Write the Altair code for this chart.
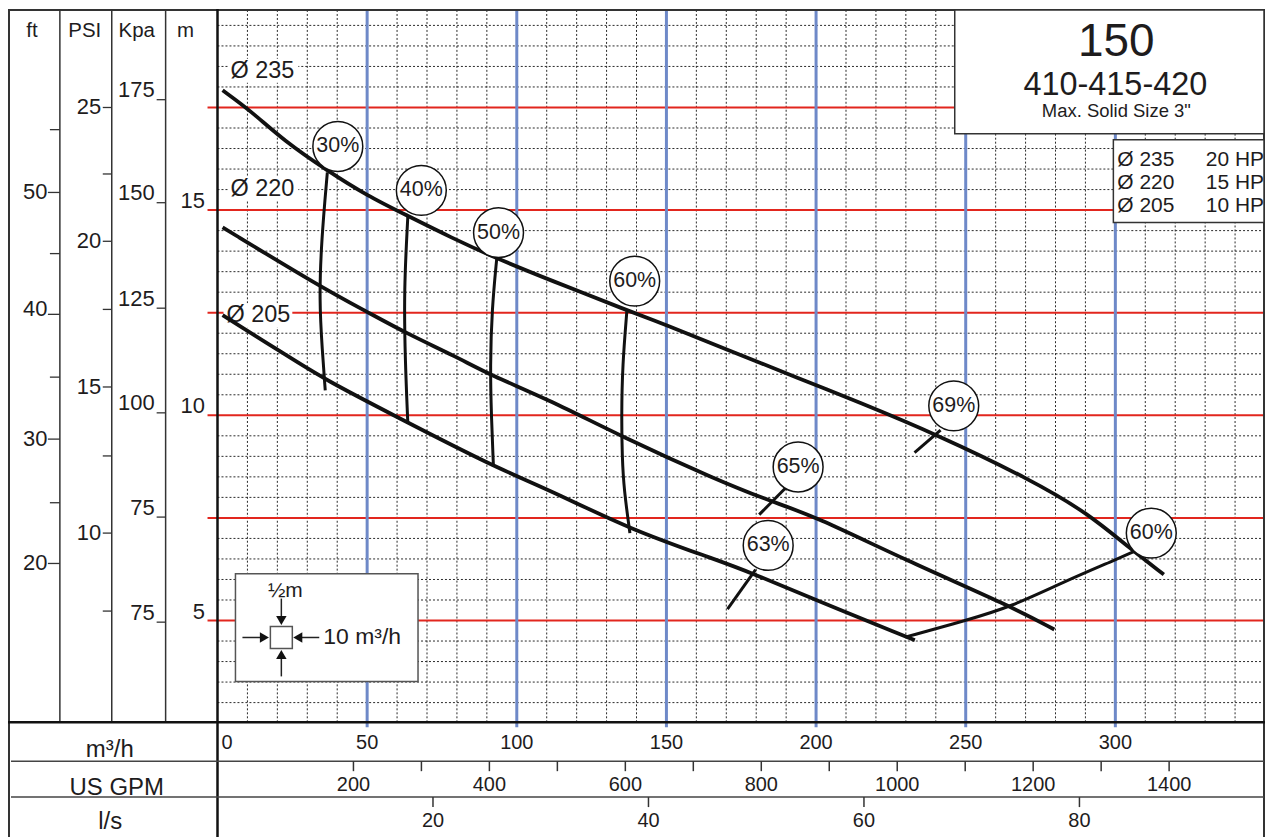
import altair as alt
import pandas as pd

# ---------------- data ----------------
# impeller head curves: flow Q (m3/h) and head H (m)
q235 = [1.7, 11.1, 22.2, 36.7, 50, 63.3, 77.8, 93.3, 111, 136.7, 150, 169.6, 195, 214, 240.7, 271.8, 290.7, 305, 316.2]
h235 = [17.92, 17.42, 16.69, 15.96, 15.35, 14.87, 14.34, 13.82, 13.3, 12.56, 12.2, 11.62, 10.88, 10.33, 9.52, 8.43, 7.62, 6.75, 6.12]
q220 = [1.7, 34.4, 50, 63.3, 80, 91.1, 111.1, 135, 166.7, 185, 199.6, 229.6, 265, 279.6]
h220 = [14.58, 13.13, 12.52, 11.99, 11.42, 10.98, 10.37, 9.48, 8.43, 7.9, 7.54, 6.48, 5.35, 4.78]
q205 = [1.7, 22.2, 36.1, 58.9, 92.2, 111.1, 137.8, 166.7, 178.4, 199.6, 229.6, 233]
h205 = [12.44, 11.5, 10.86, 10.0, 8.75, 8.18, 7.22, 6.48, 6.16, 5.51, 4.62, 4.52]
curve_names = ["Ø 235", "Ø 220", "Ø 205"]
curve_power = ["20 HP", "15 HP", "10 HP"]

# iso-efficiency lines
e30_q = [36.7, 34.7, 34.0, 35.0, 36.0]
e30_h = [15.92, 14.24, 12.8, 11.59, 10.61]
e40_q = [63.6, 62.3, 62.7, 63.6]
e40_h = [14.85, 13.05, 11.34, 9.8]
e50_q = [93.3, 91.7, 91.1, 91.5, 92.2]
e50_h = [13.82, 12.6, 11.18, 10.0, 8.75]
e60_q = [136.8, 135.3, 135.0, 135.2, 135.8, 137.8]
e60_h = [12.56, 11.2, 10.0, 9.0, 8.2, 7.13]
e60r_q = [230, 250, 265, 283, 300, 306.2]
e60r_h = [4.6, 5.0, 5.33, 5.95, 6.48, 6.68]

# efficiency bubbles
bub_text = ["30%", "40%", "50%", "60%", "69%", "65%", "63%", "60%"]
bub_q = [40.2, 68.1, 93.9, 139.4, 246, 194, 184, 312]
bub_h = [16.55, 15.48, 14.45, 13.27, 10.23, 8.74, 6.83, 7.13]
# leader lines for 69%, 65%, 63%
lead_q1 = [232.9, 181.0, 170.4]
lead_h1 = [9.09, 7.58, 5.28]
lead_q2 = [241.6, 189.8, 179.8]
lead_h2 = [9.64, 8.23, 6.24]

# secondary axes (positions expressed on the metre scale)
ft_labels = ["50", "40", "30", "20"]
ft_major_m = [15.43, 12.46, 9.42, 6.39]
ft_label_m = [15.43, 12.58, 9.42, 6.39]
ft_minor_m = [16.96, 13.94, 10.93, 7.87]
psi_labels = ["25", "20", "15", "10"]
psi_major_m = [17.5, 14.24, 10.69, 7.13]
psi_minor_m = [15.88, 12.58, 9.01, 5.23]
kpa_labels = ["175", "150", "125", "100", "75", "75"]
kpa_m = [17.69, 15.18, 12.61, 10.06, 7.52, 4.96]
m_labels = ["15", "10", "5"]
m_vals = [15, 10, 5]
red_m = [5, 7.5, 10, 12.5, 15, 17.5]
blue_q = [50, 100, 150, 200, 250, 300]
q_labels = [0, 50, 100, 150, 200, 250, 300]
gpm_ticks = [200, 300, 400, 500, 600, 700, 800, 900, 1000, 1100, 1200, 1300, 1400]
gpm_labels = [200, 400, 600, 800, 1000, 1200, 1400]
ls_ticks = [20, 40, 60, 80]

# ---------------- layout helpers ----------------
XMIN, XMAX = -70.0, 350.0
YMIN, YMAX = -0.275, 19.9
W, H = 1260, 830
FONT = "Liberation Sans"
INK = "#1e1c1d"


def dx(px):
    return XMIN + (px - 8) * (XMAX - XMIN) / W


def dy(py):
    return YMAX - (py - 8) * (YMAX - YMIN) / H


PXM = H / (YMAX - YMIN)  # pixels per metre
xs = alt.Scale(domain=[XMIN, XMAX], nice=False, zero=False)
ys = alt.Scale(domain=[YMIN, YMAX], nice=False, zero=False)


def X(f="x"):
    return alt.X(f"{f}:Q", scale=xs, axis=None)


def Y(f="y"):
    return alt.Y(f"{f}:Q", scale=ys, axis=None)


def segs(rows, **mk):
    df = pd.DataFrame(rows, columns=["x", "x2", "y", "y2"])
    return alt.Chart(df).mark_rule(**mk).encode(x=X("x"), x2="x2:Q", y=Y("y"), y2="y2:Q")


def rects(rows, **mk):
    df = pd.DataFrame(rows, columns=["x", "x2", "y", "y2"])
    return alt.Chart(df).mark_rect(**mk).encode(x=X("x"), x2="x2:Q", y=Y("y"), y2="y2:Q")


def texts(rows, size, align="center", baseline="middle", **mk):
    df = pd.DataFrame(rows, columns=["x", "y", "t"])
    return alt.Chart(df).mark_text(font=FONT, fontSize=size, align=align, baseline=baseline,
                                   color=INK, **mk).encode(x=X("x"), y=Y("y"), text="t:N")


layers = []

# ---- grid ----
vdot = [(q, q, dy(723), YMAX) for q in range(10, 350, 10) if q % 50]
hdot = [(0, 350, m / 2, m / 2) for m in range(6, 40) if (m / 2) % 2.5]
layers.append(segs(vdot, color="#2a2a2a", strokeWidth=1, strokeDash=[2, 2]))
layers.append(segs(hdot, color="#2a2a2a", strokeWidth=1, strokeDash=[2, 2]))
layers.append(segs([(dx(208), 350, m, m) for m in red_m], color="#e2261e", strokeWidth=2))
layers.append(segs([(q, q, dy(728), YMAX) for q in blue_q], color="#6e89c8", strokeWidth=3))

# ---- frame / table lines ----
layers.append(segs([(dx(9), dx(9), YMIN, YMAX), (dx(8), XMAX, dy(9), dy(9)),
                    (dx(1267), dx(1267), YMIN, YMAX)], color="#333", strokeWidth=2))
layers.append(segs([(dx(p), dx(p), dy(723), YMAX) for p in [60, 112, 166]], color="#333", strokeWidth=1.5))
layers.append(segs([(0, 0, YMIN, YMAX), (dx(8), XMAX, dy(723), dy(723))], color="#111", strokeWidth=2.5))
layers.append(segs([(dx(11), dx(1267), dy(762), dy(762)), (dx(11), dx(1267), dy(798), dy(798))],
                   color="#444", strokeWidth=1.5))

# ---- left axis ticks ----
layers.append(segs([(dx(48), dx(60), m, m) for m in ft_major_m] +
                   [(dx(50), dx(60), m, m) for m in ft_minor_m] +
                   [(dx(103), dx(112), m, m) for m in psi_major_m + psi_minor_m] +
                   [(dx(157), dx(166), m, m) for m in kpa_m], color="#333", strokeWidth=1.3))
# ---- bottom axis ticks ----
layers.append(segs([(g / 4.403, g / 4.403, dy(762), dy(772)) for g in gpm_ticks] +
                   [(v * 3.6, v * 3.6, dy(798), dy(808)) for v in ls_ticks], color="#333", strokeWidth=1.5))

# ---- left axis texts ----
layers.append(texts([(dx(32), dy(30), "ft"), (dx(85), dy(30), "PSI"), (dx(137), dy(30), "Kpa"),
                     (dx(186), dy(30), "m")], 20.5))
layers.append(texts([(dx(47.5), m, t) for m, t in zip(ft_label_m, ft_labels)] +
                    [(dx(101.5), m, t) for m, t in zip(psi_major_m, psi_labels)], 22, align="right"))
layers.append(texts([(dx(155), m + 2.5 / PXM, t) for m, t in zip(kpa_m, kpa_labels)] +
                    [(dx(205.5), m + 2 / PXM, t) for m, t in zip(m_vals, m_labels)], 22,
                    align="right", baseline="alphabetic"))

# ---- bottom axis texts ----
layers.append(texts([(dx(110), dy(758), "m³/h"), (dx(117), dy(796), "US GPM"), (dx(110.5), dy(830), "l/s")],
                    24, baseline="alphabetic"))
layers.append(texts([(dx(222), dy(750), str(q_labels[0]))], 20, align="left", baseline="alphabetic"))
layers.append(texts([(q, dy(750), str(q)) for q in q_labels[1:]] +
                    [(g / 4.403, dy(792), str(g)) for g in gpm_labels] +
                    [(v * 3.6, dy(828), str(v)) for v in ls_ticks], 20, baseline="alphabetic"))

# ---- diameter labels on the chart (white background) ----
layers.append(rects([(dx(229), dx(299), dy(58), dy(82)), (dx(229), dx(299), dy(176), dy(200)),
                     (dx(224), dx(293), dy(303), dy(327))], color="white"))
layers.append(texts([(dx(231), dy(70), curve_names[0]), (dx(231), dy(188), curve_names[1]),
                     (dx(227), dy(315), curve_names[2])], 23.5, align="left"))

# ---- head curves ----
curves = pd.DataFrame({
    "q": q235 + q220 + q205,
    "h": h235 + h220 + h205,
    "c": [curve_names[0]] * len(q235) + [curve_names[1]] * len(q220) + [curve_names[2]] * len(q205),
})
layers.append(alt.Chart(curves).mark_line(interpolate="basis", color="#111", strokeWidth=3.8,
                                          strokeCap="butt").encode(x=X("q"), y=Y("h"), detail="c:N"))

# ---- efficiency lines ----
eff_rows = []
for name, qq, hh in [("30", e30_q, e30_h), ("40", e40_q, e40_h), ("50", e50_q, e50_h),
                     ("60", e60_q, e60_h), ("60r", e60r_q, e60r_h)]:
    for i, (a, b) in enumerate(zip(qq, hh)):
        eff_rows.append({"q": a, "h": b, "e": name, "i": i})
eff = pd.DataFrame(eff_rows)
layers.append(alt.Chart(eff).mark_line(interpolate="basis", color="#111", strokeWidth=3).encode(
    x=X("q"), y=Y("h"), detail="e:N", order="i:Q"))
layers.append(segs(list(zip(lead_q1, lead_q2, lead_h1, lead_h2)), color="#111", strokeWidth=3))

# ---- efficiency bubbles ----
bub = pd.DataFrame({"x": bub_q, "y": bub_h, "t": bub_text})
layers.append(alt.Chart(bub).mark_point(shape="circle", filled=True, fill="white", stroke="#111",
                                        strokeWidth=1.5, size=2500, opacity=1).encode(x=X(), y=Y()))
layers.append(texts(list(zip(bub_q, bub_h, bub_text)), 21.5))

# ---- title box ----
layers.append(rects([(dx(957), dx(1267), dy(9), dy(133))], fill="white", stroke="#333", strokeWidth=1.5))
layers.append(texts([(dx(1119), dy(55), "150")], 46, baseline="alphabetic"))
layers.append(texts([(dx(1118), dy(94), "410-415-420")], 32.5, baseline="alphabetic"))
layers.append(texts([(dx(1119), dy(116), 'Max. Solid Size 3"')], 18.5, baseline="alphabetic"))

# ---- power legend box ----
layers.append(rects([(dx(1116), dx(1267), dy(139), dy(222))], fill="white", stroke="#333", strokeWidth=1.5))
layers.append(texts([(dx(1120), dy(py), n) for py, n in zip([159, 182, 205], curve_names)], 21, align="left"))
layers.append(texts([(dx(1267), dy(py), n) for py, n in zip([159, 182, 205], curve_power)], 21, align="right"))

# ---- scale key box ----
layers.append(rects([(dx(236), dx(419), dy(574), dy(682))], fill="white", stroke="#555", strokeWidth=1.5))
layers.append(rects([(dx(271), dx(293), dy(627), dy(649))], fill="white", stroke="#555", strokeWidth=1.5))
layers.append(segs([(dx(243), dx(266), dy(638), dy(638)), (dx(320), dx(298), dy(638), dy(638)),
                    (dx(282), dx(282), dy(599), dy(622)), (dx(282), dx(282), dy(677), dy(654))],
                   color="#222", strokeWidth=1.5))
arrows = pd.DataFrame({"x": [dx(265), dx(298.5), dx(282), dx(282)],
                       "y": [dy(638), dy(638), dy(621), dy(655)],
                       "s": ["triangle-right", "triangle-left", "triangle-down", "triangle-up"]})
layers.append(alt.Chart(arrows).mark_point(filled=True, color="#111", size=110, opacity=1).encode(
    x=X(), y=Y(), shape=alt.Shape("s:N", scale=None)))
layers.append(texts([(dx(286), dy(591), "½m")], 21))
layers.append(texts([(dx(324), dy(638), "10 m³/h")], 23, align="left"))

chart = alt.layer(*layers).properties(
    width=W, height=H, padding=0, background="white",
    autosize=alt.AutoSizeParams(type="none"),
).configure_view(strokeWidth=0)

chart.save("out.html", embed_options={"renderer": "svg", "actions": False})
